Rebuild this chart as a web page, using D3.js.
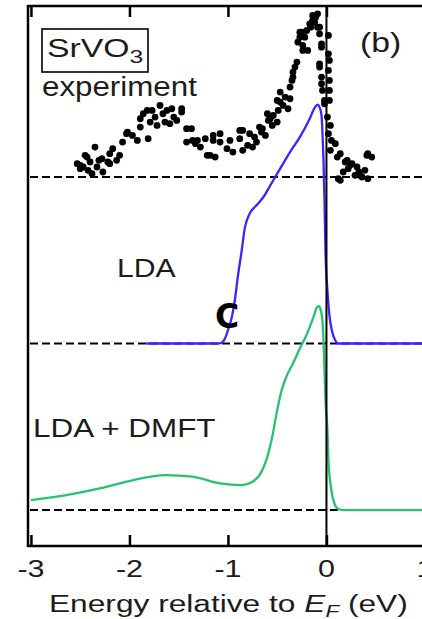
<!DOCTYPE html>
<html>
<head>
<meta charset="utf-8">
<script src="https://cdn.jsdelivr.net/npm/d3@7"></script>
<style>
  html, body { margin: 0; padding: 0; background: #fff; }
  svg { display: block; }
  text { font-family: "Liberation Sans", Arial, sans-serif; fill: #1c1c1c; }
</style>
</head>
<body>
<svg id="chart" width="422" height="619"></svg>
<script>
// ---------- DATA (energy in eV, intensity in arbitrary units above each trace's baseline) ----------
const xTicks = [-3, -2, -1, 0, 1];
const baselineOffsets = { experiment: 200, lda: 100, dmft: 0 };

// Photoemission experiment (scatter)
const experiment = [
  [-2.53, 8], [-2.50, 7], [-2.50, 5], [-2.47, 6], [-2.45, 13], [-2.43, 12], [-2.40, 9],
  [-2.38, 2], [-2.35, 18], [-2.33, 6], [-2.28, 11], [-2.27, 3], [-2.22, 9], [-2.20, 8],
  [-2.20, 14], [-2.17, 17], [-2.13, 10], [-2.10, 13], [-2.07, 21], [-2.03, 26], [-2.02, 27],
  [-1.97, 25], [-1.92, 22], [-1.89, 35], [-1.89, 30], [-1.86, 38], [-1.82, 40], [-1.81, 23],
  [-1.79, 33], [-1.77, 40], [-1.72, 31], [-1.69, 43], [-1.64, 33], [-1.62, 40], [-1.59, 32],
  [-1.57, 41], [-1.52, 34], [-1.47, 39], [-1.47, 41], [-1.42, 29], [-1.42, 21], [-1.37, 29],
  [-1.36, 22], [-1.33, 20], [-1.31, 22], [-1.28, 18], [-1.23, 23], [-1.21, 13], [-1.18, 13],
  [-1.15, 22], [-1.15, 25], [-1.13, 12], [-1.08, 21], [-1.08, 26], [-1.01, 17], [-0.98, 22],
  [-0.95, 15], [-0.88, 23], [-0.88, 28], [-0.85, 16], [-0.85, 28], [-0.80, 19], [-0.78, 26],
  [-0.75, 18], [-0.71, 21], [-0.68, 30], [-0.65, 29], [-0.62, 25], [-0.60, 38], [-0.59, 34],
  [-0.55, 31], [-0.54, 37], [-0.50, 46], [-0.50, 33], [-0.49, 40], [-0.47, 51], [-0.47, 45],
  [-0.44, 43], [-0.42, 48], [-0.39, 41], [-0.37, 54], [-0.37, 47], [-0.35, 58], [-0.34, 63],
  [-0.34, 60], [-0.30, 69], [-0.29, 81], [-0.27, 84], [-0.27, 87], [-0.25, 87], [-0.24, 79],
  [-0.24, 76], [-0.20, 88], [-0.19, 76], [-0.17, 92], [-0.14, 97], [-0.14, 94], [-0.12, 93],
  [-0.09, 98], [-0.09, 90], [-0.07, 90], [-0.07, 86], [-0.07, 68], [-0.07, 66], [-0.05, 80],
  [-0.05, 78], [-0.05, 60], [-0.05, 56], [-0.04, 52], [-0.02, 46], [-0.02, 44], [0.01, 36],
  [0.02, 26], [0.02, 85], [0.02, 74], [0.03, 70], [0.03, 58], [0.03, 46], [0.02, 64],
  [0.03, 52], [0.04, 16], [0.04, 31], [0.05, 22], [0.09, 20], [0.11, 12], [0.12, -1],
  [0.14, 14], [0.14, -2], [0.17, 3], [0.19, 9], [0.21, 10], [0.22, 5], [0.26, 8], [0.29, 1],
  [0.31, 6], [0.34, 1], [0.36, 0], [0.39, 4], [0.41, 13], [0.42, 14], [0.42, -1], [0.46, 12],
  [-0.11, 96], [-0.16, 90], [-0.22, 84], [-0.32, 66], [-0.57, 35], [-0.66, 27], [-0.73, 24],
  [-1.74, 36], [-1.66, 38], [-1.55, 36], [-2.31, 10], [-2.42, 4], [0.24, 7], [0.33, 3]
];

// LDA density of states (line)
const lda = [
  [-1.83, 0], [-1.10, 0], [-1.06, 0.6], [-1.03, 3], [-1.00, 8], [-0.96, 16], [-0.93, 26],
  [-0.90, 40], [-0.86, 56], [-0.83, 69], [-0.78, 78], [-0.71, 83], [-0.64, 88], [-0.57, 95],
  [-0.50, 102], [-0.37, 115], [-0.27, 124], [-0.17, 135], [-0.12, 141.5], [-0.09, 143.5],
  [-0.07, 142], [-0.05, 137], [-0.04, 126], [-0.03, 110], [-0.02, 86], [-0.01, 56],
  [0.01, 32], [0.03, 17], [0.06, 6.6], [0.09, 1.8], [0.12, 0], [0.97, 0]
];

// LDA + DMFT spectral function (line)
const dmft = [
  [-3.00, 6], [-2.64, 9], [-2.30, 13], [-1.96, 18], [-1.64, 21], [-1.36, 20], [-1.08, 16],
  [-0.86, 15], [-0.75, 17], [-0.65, 24], [-0.60, 32], [-0.55, 44], [-0.50, 60], [-0.45, 73],
  [-0.40, 81], [-0.34, 88], [-0.27, 97], [-0.20, 105.5], [-0.15, 113], [-0.12, 118],
  [-0.10, 121.5], [-0.08, 122.5], [-0.06, 120.5], [-0.04, 113], [-0.03, 102], [-0.02, 84],
  [-0.01, 66], [0.01, 48], [0.02, 30], [0.05, 12], [0.08, 4], [0.12, 0.6], [0.17, 0], [0.97, 0]
];

// ---------- CHART ----------
const svg = d3.select("#chart");
const x = d3.scaleLinear().domain([-3.03, 0.97]).range([28, 422]);
const y = d3.scaleLinear().domain([-21.6, 302.7]).range([546, 6]);

const plotLeft = x(-3.03), plotRight = x(0.97), plotTop = y(302.7), plotBottom = y(-21.6);

// Dashed baselines
Object.values(baselineOffsets).forEach(off => {
  svg.append("line")
    .attr("x1", plotLeft + 2).attr("x2", plotRight)
    .attr("y1", y(off)).attr("y2", y(off))
    .attr("stroke", "#000").attr("stroke-width", 2)
    .attr("stroke-dasharray", "8,4");
});

// Lines
const line = off => d3.line()
  .x(d => x(d[0])).y(d => y(d[1] + off))
  .curve(d3.curveMonotoneX);

svg.append("path").datum(lda)
  .attr("d", line(baselineOffsets.lda))
  .attr("fill", "none").attr("stroke", "#3f22ff").attr("stroke-width", 2.3);

svg.append("path").datum(dmft)
  .attr("d", line(baselineOffsets.dmft))
  .attr("fill", "none").attr("stroke", "#27c26e").attr("stroke-width", 2.3);

// E_F vertical line
svg.append("line")
  .attr("x1", x(0)).attr("x2", x(0))
  .attr("y1", plotTop).attr("y2", plotBottom)
  .attr("stroke", "#000").attr("stroke-width", 2);

// Experiment dots
svg.append("g").selectAll("circle").data(experiment).join("circle")
  .attr("cx", d => x(d[0])).attr("cy", d => y(d[1] + baselineOffsets.experiment))
  .attr("r", 3.4).attr("fill", "#000");

// Frame: left, top, bottom axes
const bottomAxis = d3.axisBottom(x).tickValues(xTicks).tickSizeInner(-11).tickSizeOuter(0).tickFormat("");
const gB = svg.append("g").attr("transform", `translate(0,${plotBottom})`).call(bottomAxis);
const topAxis = d3.axisTop(x).tickValues(xTicks).tickSizeInner(-11).tickSizeOuter(0).tickFormat("");
const gT = svg.append("g").attr("transform", `translate(0,${plotTop})`).call(topAxis);
[gB, gT].forEach(g => {
  g.select(".domain").attr("stroke", "#000").attr("stroke-width", 2.5).attr("d", `M${plotLeft},0H${plotRight}`);
  g.selectAll(".tick line").attr("stroke", "#000").attr("stroke-width", 2.5);
});
svg.append("line")
  .attr("x1", plotLeft).attr("x2", plotLeft)
  .attr("y1", plotTop - 1).attr("y2", plotBottom + 1)
  .attr("stroke", "#000").attr("stroke-width", 2.5);

// Tick labels (the "1" label sits at the right edge, partly cut off as in the reference)
svg.append("g").selectAll("text").data(xTicks).join("text")
  .attr("transform", d => `translate(${x(d)},577) scale(1.27,1)`)
  .attr("text-anchor", "middle")
  .attr("font-size", 24)
  .text(d => String(d));

// Axis title
const title = svg.append("text")
  .attr("transform", "translate(49,612) scale(1.32,1)")
  .attr("font-size", 24);
title.append("tspan").text("Energy relative to ");
title.append("tspan").attr("font-style", "italic").text("E");
title.append("tspan").attr("font-style", "italic").attr("font-size", 17).attr("dy", 5).text("F");
title.append("tspan").attr("dy", -5).text(" (eV)");

// Labels
svg.append("rect")
  .attr("x", 42).attr("y", 29).attr("width", 106).attr("height", 43)
  .attr("fill", "none").attr("stroke", "#000").attr("stroke-width", 1.6);
const sr = svg.append("text")
  .attr("transform", "translate(47,57) scale(1.3,1)")
  .attr("font-size", 26);
sr.append("tspan").text("SrVO");
sr.append("tspan").attr("font-size", 19).attr("dy", 6).text("3");

svg.append("text").attr("transform", "translate(42,96) scale(1.16,1)")
  .attr("font-size", 27).text("experiment");
svg.append("text").attr("transform", "translate(360,52) scale(1.25,1)")
  .attr("font-size", 27).text("(b)");
svg.append("text").attr("transform", "translate(117,277) scale(1.16,1)")
  .attr("font-size", 26).text("LDA");
svg.append("text").attr("transform", "translate(33,437) scale(1.21,1)")
  .attr("font-size", 26).text("LDA + DMFT");

// Stray "C" glyph in the reference
svg.append("text").attr("x", 215).attr("y", 328)
  .style("font-family", "'DejaVu Sans', sans-serif")
  .style("fill", "#000")
  .attr("font-weight", "bold")
  .attr("font-size", 33).text("C");
</script>
</body>
</html>
